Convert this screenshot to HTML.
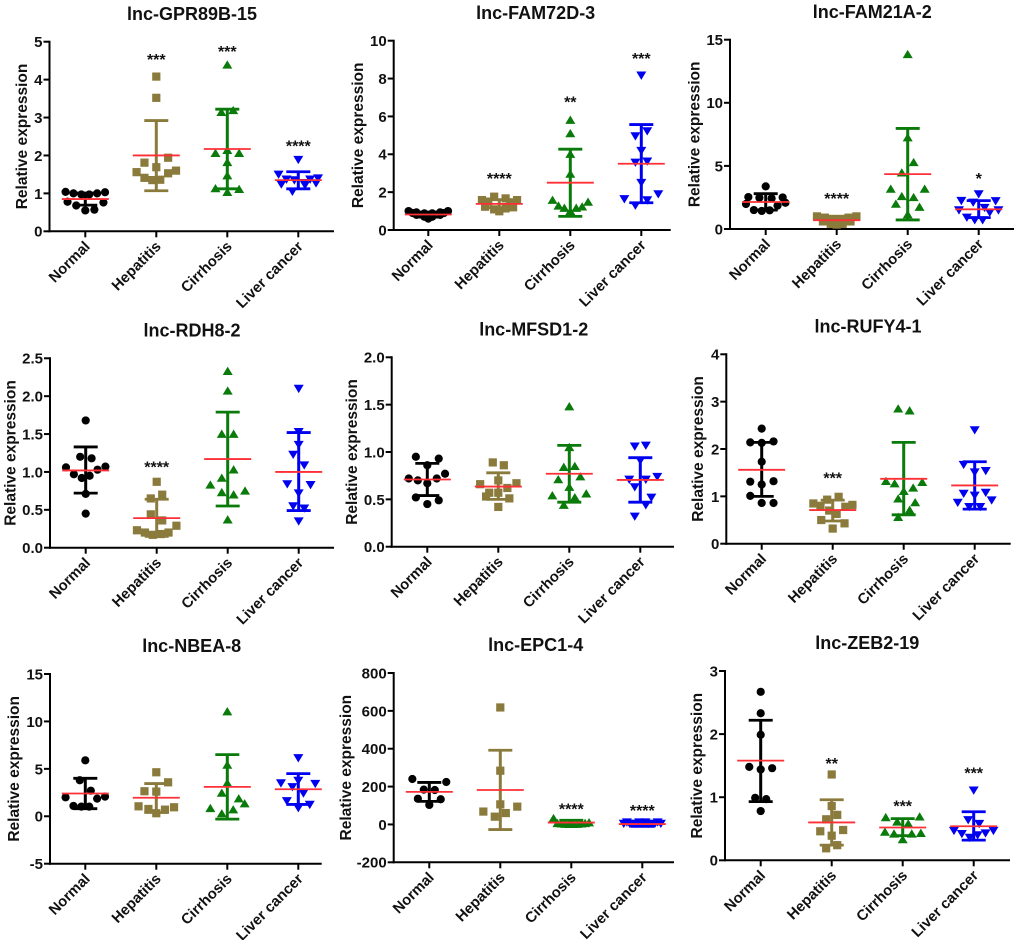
<!DOCTYPE html>
<html lang="en">
<head>
<meta charset="utf-8">
<title>Relative expression of lncRNAs across liver disease groups</title>
<style>
html,body{margin:0;padding:0;background:#fff;width:1020px;height:940px;overflow:hidden}
svg{display:block;filter:blur(0.35px)}
text{font-family:"Liberation Sans",Arial,sans-serif;fill:#111}
</style>
</head>
<body>
<svg id="figure" xmlns="http://www.w3.org/2000/svg" width="1020" height="940" viewBox="0 0 1020 940"></svg>
<script>
const categories = ['Normal','Hepatitis','Cirrhosis','Liver cancer'];
const axisLabel = 'Relative expression';

/* lnc-GPR89B-15 */
const gpr89bTicks = ['0','1','2','3','4','5'];
const gpr89bValues = [
 [1.04,1.0,0.97,0.97,1.0,1.03,0.78,0.68,0.55,0.57,0.76],
 [4.08,3.52,1.94,1.81,1.69,1.56,1.6,1.41,1.53,1.35,1.36],
 [4.39,3.19,3.14,2.14,2.06,2.06,1.82,1.47,1.13,1.11,1.03],
 [1.89,1.5,1.4,1.37,1.37,1.35,1.28,1.27,1.24,1.05,1.22]];
const gpr89bJitter = [
 [-5,-3,-1,1,3,5,-4.5,-2.3,0,2.3,4.6],
 [0,0,3,-3,0,-5,5,-3,3,-1,1],
 [0,1.5,-1.5,0,-3,3,0,0,-3,3,0],
 [0,-5,5,-3,3,-1,1.5,4.5,-4.3,-1.5,1.7]];
const gpr89bMeans = [0.85,2.0,2.17,1.35];
const gpr89bLow = [0.69,1.07,1.12,1.12];
const gpr89bHigh = [1.01,2.92,3.22,1.57];
const gpr89bStars = ['','***','***','****'];
const gpr89bStarLevels = [0,4.63,4.85,2.36];

/* lnc-FAM72D-3 */
const fam72dTicks = ['0','2','4','6','8','10'];
const fam72dValues = [
 [1.0,0.93,0.88,0.88,0.93,1.0,0.8,0.7,0.6,0.7,0.8,0.9,0.9],
 [1.76,1.67,1.58,1.58,1.5,1.46,1.23,1.2,1.09,1.14,0.99],
 [5.81,5.1,4.01,2.96,1.58,1.48,1.28,1.23,1.16,1.16,0.99],
 [8.17,4.96,5.23,4.19,3.57,3.63,2.5,1.9,1.64,1.58,1.3]];
const fam72dJitter = [
 [-5,-3,-1,1,3,5,-3,-1,0,1,3,-4,4],
 [-1.3,1.6,-4.4,4.5,-2.8,2.7,-3.6,3.5,-1.3,1.6,0],
 [0,0,0,0,-4.5,4.5,-3,3,-1.5,1.5,0],
 [0,-1.5,1.5,0,-1.5,1.5,0,4.3,-4.3,1.5,-1.5]];
const fam72dMeans = [0.82,1.38,2.5,3.5];
const fam72dLow = [0.68,1.18,0.72,1.44];
const fam72dHigh = [0.95,1.6,4.27,5.57];
const fam72dStars = ['','****','**','***'];
const fam72dStarLevels = [0,2.94,6.97,9.28];

/* lnc-FAM21A-2 */
const fam21aTicks = ['0','5','10','15'];
const fam21aValues = [
 [3.38,2.53,2.5,1.98,2.08,2.48,2.43,1.85,1.5,1.43,1.48],
 [1.0,0.9,0.8,0.8,0.9,1.0,0.6,0.4,0.35,0.4,0.6],
 [13.84,7.24,5.28,4.46,3.17,3.17,2.59,2.51,1.98,1.74,1.14],
 [2.77,2.24,2.22,2.11,1.69,1.5,1.5,1.32,0.92,0.71,0.71]];
const fam21aJitter = [
 [0,-4.4,4.3,-5,5,-1.6,1.5,3,-3,-1,1],
 [-5,-3,-1,1,3,5,-3.5,-1.5,0,1.5,3.5],
 [0,0,1.5,-1.5,-4.3,4.3,-1.5,1.5,-3,3,0],
 [0,-4.4,4.3,-1.4,1.5,-5,5,2.8,-3,-1,1]];
const fam21aMeans = [2.14,0.7,4.35,1.56];
const fam21aLow = [1.5,0.5,0.72,0.9];
const fam21aHigh = [2.8,0.88,7.97,2.25];
const fam21aStars = ['','****','','*'];
const fam21aStarLevels = [0,2.72,0,4.3];

/* lnc-RDH8-2 */
const rdh8Ticks = ['0.0','0.5','1.0','1.5','2.0','2.5'];
const rdh8Values = [
 [1.68,1.2,1.18,1.06,1.07,1.03,0.97,0.92,0.95,0.71,0.45],
 [0.87,0.7,0.65,0.44,0.36,0.29,0.23,0.2,0.2,0.17,0.18],
 [2.33,2.07,1.5,1.5,1.03,0.92,0.83,0.75,0.73,0.7,0.37],
 [2.1,1.53,1.36,1.23,1.09,0.84,0.83,0.72,0.55,0.52,0.35]];
const rdh8Jitter = [
 [0,-1.4,1.5,-5,5,3,-3,-1,1,0,0],
 [0,1.4,-1.5,-1.5,1.4,5,-5,3,-3,-1,1],
 [0,0,-1.5,1.5,1.5,-1.5,-4.4,4.4,-1.5,1.5,0],
 [0,0,0,-1.4,1.4,-2.9,3,0,-1.4,1.4,0]];
const rdh8Means = [1.02,0.39,1.17,1.0];
const rdh8Low = [0.72,0.15,0.55,0.49];
const rdh8High = [1.33,0.64,1.79,1.52];
const rdh8Stars = ['','****','',''];
const rdh8StarLevels = [0,1.12,0,0];

/* lnc-MFSD1-2 */
const mfsd1Ticks = ['0.0','0.5','1.0','1.5','2.0'];
const mfsd1Values = [
 [0.95,0.93,0.86,0.77,0.72,0.72,0.7,0.67,0.52,0.49,0.45],
 [0.89,0.86,0.7,0.67,0.66,0.62,0.57,0.57,0.53,0.51,0.42],
 [1.48,1.05,0.84,0.85,0.74,0.71,0.63,0.56,0.54,0.52,0.44],
 [1.06,1.07,0.91,0.74,0.71,0.71,0.63,0.52,0.44,0.32]];
const mfsd1Jitter = [
 [-2.9,2.9,0,4.5,-4.7,2.4,-2.4,0,-2.9,2.9,0],
 [-1.4,1.4,0,4.6,-4.6,2.3,-2.3,0,-3.1,2.8,0],
 [0,0,-1.4,1.4,2.8,-2.8,0,4.3,-4.3,1.4,-1.4],
 [-1.4,1.4,0,4.3,-2.8,1.4,-1.4,2.8,1.4,-1.4]];
const mfsd1Means = [0.71,0.635,0.77,0.705];
const mfsd1Low = [0.54,0.5,0.47,0.47];
const mfsd1High = [0.88,0.78,1.07,0.94];
const mfsd1Stars = ['','','',''];
const mfsd1StarLevels = [0,0,0,0];

/* lnc-RUFY4-1 */
const rufy4Ticks = ['0','1','2','3','4'];
const rufy4Values = [
 [2.43,2.14,2.16,2.13,1.73,1.31,1.32,1.25,1.01,0.86,0.86],
 [0.99,0.93,0.85,0.82,0.8,0.78,0.7,0.63,0.5,0.43,0.32],
 [2.85,2.81,1.32,1.3,1.27,1.18,1.11,0.95,0.87,0.71,0.56],
 [2.4,1.67,1.54,1.51,1.06,1.08,1.02,0.92,0.87,0.78,0.78]];
const rufy4Jitter = [
 [0,-2.9,3,0,0,-2.9,3,0,-2.9,0,3],
 [1.5,-1.4,-4.9,5,-3.1,3.2,-0.9,1,-2.9,3,0],
 [-1.4,1.5,-4.5,4.7,-2.3,2.4,0,-1.4,2.9,1.5,-1.4],
 [0,-2.8,2.8,0,-2.8,2.8,0,4.3,-4.3,-1.4,1.4]];
const rufy4Means = [1.56,0.71,1.37,1.23];
const rufy4Low = [1.0,0.48,0.61,0.73];
const rufy4High = [2.14,0.92,2.14,1.73];
const rufy4Stars = ['','***','',''];
const rufy4StarLevels = [0,1.47,0,0];

/* lnc-NBEA-8 */
const nbeaTicks = ['-5','0','5','10','15'];
const nbeaValues = [
 [5.9,3.8,2.7,2.0,2.07,1.86,1.09,1.02,1.02],
 [4.64,3.58,2.64,2.6,1.05,0.95,0.77,0.7,0.32],
 [11.04,5.41,3.5,2.46,1.86,1.34,0.84,0.7,0.28],
 [6.15,3.5,3.44,3.76,3.1,2.43,1.62,1.23,0.88]];
const nbeaJitter = [
 [0,-1.4,1.4,-5,5,3,-3,-1,1],
 [0,3,-3,0,-4.5,4.5,-2,2.2,0],
 [0,0,0,-1.4,2.9,4.4,-4.3,1.5,-1.4],
 [0,-4.4,4.3,0,-1.5,1.3,-2.9,2.9,0]];
const nbeaMeans = [2.4,1.95,3.1,2.85];
const nbeaLow = [0.8,0.4,-0.3,1.25];
const nbeaHigh = [4.0,3.45,6.5,4.5];
const nbeaStars = ['','','',''];
const nbeaStarLevels = [0,0,0,0];

/* lnc-EPC1-4 */
const epc1Ticks = ['-200','0','200','400','600','800'];
const epc1Values = [
 [240,224,184,182,136,133,103],
 [618,284,106,94,68,60,41],
 [32,6,4,2,1,1,2,4,6,10],
 [5,5,5,5,5,5,5,12,12,12,12]];
const epc1Jitter = [
 [-4.3,4.3,-1.4,1.4,-2.9,2.9,0],
 [0,0,0,4.3,-4.3,1.4,-1.4],
 [-4.5,-3.5,-2.5,-1.5,-0.5,0.5,1.5,2.5,3.5,4.5],
 [-4.7,-3.2,-1.6,0,1.6,3.2,4.7,-3.9,-0.8,0.8,3.9]];
const epc1Means = [172,182,10,2];
const epc1Low = [122,-27,-2,-10];
const epc1High = [222,392,22,14];
const epc1Stars = ['','','****','****'];
const epc1StarLevels = [0,0,103,94];

/* lnc-ZEB2-19 */
const zeb2Ticks = ['0','1','2','3'];
const zeb2Values = [
 [2.67,2.33,1.99,1.48,1.46,1.44,0.99,0.97,0.78],
 [1.36,0.86,0.72,0.65,0.48,0.46,0.39,0.24,0.19],
 [0.68,0.69,0.61,0.58,0.45,0.43,0.42,0.42,0.33],
 [1.11,0.64,0.58,0.47,0.47,0.43,0.42,0.4,0.36]];
const zeb2Jitter = [
 [0,0,0,-2.9,2.9,0,-1.4,1.4,0],
 [0,0,1.4,-1.4,2.9,-2.9,0,1.4,-1.4],
 [-4.3,4.3,-1.4,1.4,-4.5,4.6,-2.2,2.3,0],
 [0,-1.4,1.4,-5,5,3,-3,1,-1]];
const zeb2Means = [1.58,0.6,0.52,0.54];
const zeb2Low = [0.93,0.24,0.39,0.32];
const zeb2High = [2.22,0.96,0.66,0.77];
const zeb2Stars = ['','**','***','***'];
const zeb2StarLevels = [0,1.6,0.92,1.45];

const panelTitles = ['lnc-GPR89B-15','lnc-FAM72D-3','lnc-FAM21A-2','lnc-RDH8-2','lnc-MFSD1-2','lnc-RUFY4-1','lnc-NBEA-8','lnc-EPC1-4','lnc-ZEB2-19'];
const panelTicks = [gpr89bTicks,fam72dTicks,fam21aTicks,rdh8Ticks,mfsd1Ticks,rufy4Ticks,nbeaTicks,epc1Ticks,zeb2Ticks];
const panelValues = [gpr89bValues,fam72dValues,fam21aValues,rdh8Values,mfsd1Values,rufy4Values,nbeaValues,epc1Values,zeb2Values];
const panelJitter = [gpr89bJitter,fam72dJitter,fam21aJitter,rdh8Jitter,mfsd1Jitter,rufy4Jitter,nbeaJitter,epc1Jitter,zeb2Jitter];
const panelMeans = [gpr89bMeans,fam72dMeans,fam21aMeans,rdh8Means,mfsd1Means,rufy4Means,nbeaMeans,epc1Means,zeb2Means];
const panelLow = [gpr89bLow,fam72dLow,fam21aLow,rdh8Low,mfsd1Low,rufy4Low,nbeaLow,epc1Low,zeb2Low];
const panelHigh = [gpr89bHigh,fam72dHigh,fam21aHigh,rdh8High,mfsd1High,rufy4High,nbeaHigh,epc1High,zeb2High];
const panelStars = [gpr89bStars,fam72dStars,fam21aStars,rdh8Stars,mfsd1Stars,rufy4Stars,nbeaStars,epc1Stars,zeb2Stars];
const panelStarLevels = [gpr89bStarLevels,fam72dStarLevels,fam21aStarLevels,rdh8StarLevels,mfsd1StarLevels,rufy4StarLevels,nbeaStarLevels,epc1StarLevels,zeb2StarLevels];

/* page layout (not data) */
const frames = [
 {axis:49.5,top:41.7,bottom:231.3,end:334,first:85.3,titleX:192,titleY:13.3,labelX:21.7},
 {axis:393.7,top:40.7,bottom:230,end:670.7,first:428.3,titleX:535.7,titleY:12.7,labelX:357.3},
 {axis:730,top:39.7,bottom:229,end:1014,first:765.7,titleX:872.3,titleY:11.7,labelX:694},
 {axis:50,top:358.3,bottom:547.7,end:334,first:85.7,titleX:192,titleY:330,labelX:10},
 {axis:391.7,top:357.3,bottom:546.7,end:674,first:427.3,titleX:533.7,titleY:329,labelX:351.7},
 {axis:726.3,top:354.3,bottom:543.7,end:1010.7,first:761.7,titleX:868,titleY:326,labelX:697.7},
 {axis:50,top:674,bottom:863.7,end:321.7,first:85.3,titleX:191.7,titleY:645.7,labelX:13.3},
 {axis:393.7,top:673,bottom:862.3,end:674,first:429.3,titleX:535.7,titleY:644.3,labelX:345.7},
 {axis:725,top:671,bottom:860.3,end:1010,first:760.7,titleX:867.3,titleY:642.7,labelX:696.7}
];
const groupColors = ['#000000','#8a7a3c','#0a7a0a','#0000f0'];
const categoryStep = 71;
const slotsPerCategory = 18;
const markerR = 4.1;
const NS = 'http://www.w3.org/2000/svg';
const figure = document.getElementById('figure');

function make(parent, tag, attrs, txt){
  const el = document.createElementNS(NS, tag);
  for (const k in attrs) el.setAttribute(k, attrs[k]);
  if (txt !== undefined) el.textContent = txt;
  parent.appendChild(el);
  return el;
}
function slug(s){ return s.toLowerCase().replace(/[^a-z0-9]+/g,'-'); }

panelTitles.forEach(function(title, p){
  const f = frames[p];
  const tickLabels = panelTicks[p];
  const yMin = parseFloat(tickLabels[0]);
  const yMax = parseFloat(tickLabels[tickLabels.length-1]);
  const yScale = function(v){ return f.bottom - (v - yMin) / (yMax - yMin) * (f.bottom - f.top); };
  const xScale = function(c){ return f.first + c * categoryStep; };

  const g = make(figure, 'g', {});
  
  

  const titleEl = make(g, 'text', {x:f.titleX, y:f.titleY+6.5, 'text-anchor':'middle', 'font-size':18, 'font-weight':'bold'}, title);
  
  

  const yTitle = make(g, 'text', {'text-anchor':'middle', 'font-size':15.5, 'font-weight':'bold', transform:'translate('+(f.labelX+5.5)+','+((f.top+f.bottom)/2)+') rotate(-90)'}, axisLabel);
  
  

  const yAxis = make(g, 'line', {x1:f.axis, x2:f.axis, y1:f.top-1, y2:f.bottom+1, stroke:'#000', 'stroke-width':2});
  
  

  const xAxis = make(g, 'line', {x1:f.axis-1, x2:f.end, y1:f.bottom, y2:f.bottom, stroke:'#000', 'stroke-width':2});
  
  

  tickLabels.forEach(function(lab){
    const y = yScale(parseFloat(lab));
    const tick = make(g, 'line', {x1:f.axis-6, x2:f.axis, y1:y, y2:y, stroke:'#000', 'stroke-width':2});
    
    
    const label = make(g, 'text', {x:f.axis-7, y:y+5.4, 'text-anchor':'end', 'font-size':15, 'font-weight':'bold'}, lab);
    
    
  });

  categories.forEach(function(cat, c){
    const cx = xScale(c);
    const color = groupColors[c];

    const tick = make(g, 'line', {x1:cx, x2:cx, y1:f.bottom, y2:f.bottom+6, stroke:'#000', 'stroke-width':2});
    
    

    const label = make(g, 'text', {'text-anchor':'end', 'font-size':14.8, 'font-weight':'bold', transform:'translate('+(cx+5.5)+','+(f.bottom+16)+') rotate(-45)'}, cat);
    
    

    const series = make(g, 'g', {});
    
    

    panelValues[p][c].forEach(function(v, i){
      const px = xScale(c + panelJitter[p][c][i] / slotsPerCategory);
      const py = yScale(v);
      let mark;
      if (c === 0) {
        mark = make(series, 'circle', {cx:px, cy:py, r:markerR, fill:color});
      } else if (c === 1) {
        mark = make(series, 'rect', {x:px-markerR, y:py-markerR, width:markerR*2, height:markerR*2, fill:color});
      } else if (c === 2) {
        mark = make(series, 'polygon', {points:(px)+','+(py-4.5)+' '+(px+5)+','+(py+3.8)+' '+(px-5)+','+(py+3.8), fill:color});
      } else {
        mark = make(series, 'polygon', {points:(px)+','+(py+4.5)+' '+(px+5)+','+(py-3.8)+' '+(px-5)+','+(py-3.8), fill:color});
      }
      
      
    });

    const yLow = yScale(panelLow[p][c]);
    const yHigh = yScale(panelHigh[p][c]);
    const whisker = make(series, 'line', {x1:cx, x2:cx, y1:yHigh, y2:yLow, stroke:color, 'stroke-width':3});
    
    
    const capHigh = make(series, 'line', {x1:cx-12, x2:cx+12, y1:yHigh, y2:yHigh, stroke:color, 'stroke-width':2.8});
    
    
    const capLow = make(series, 'line', {x1:cx-12, x2:cx+12, y1:yLow, y2:yLow, stroke:color, 'stroke-width':2.8});
    
    

    const yMean = yScale(panelMeans[p][c]);
    const meanLine = make(series, 'line', {x1:cx-23.5, x2:cx+23.5, y1:yMean, y2:yMean, stroke:'#ff2f36', 'stroke-width':1.8});
    
    

    if (panelStars[p][c]) {
      const star = make(series, 'text', {x:cx, y:yScale(panelStarLevels[p][c])+9.5, 'text-anchor':'middle', 'font-size':16, 'font-weight':'bold'}, panelStars[p][c]);
      
      
    }
  });
});
</script>
</body>
</html>
